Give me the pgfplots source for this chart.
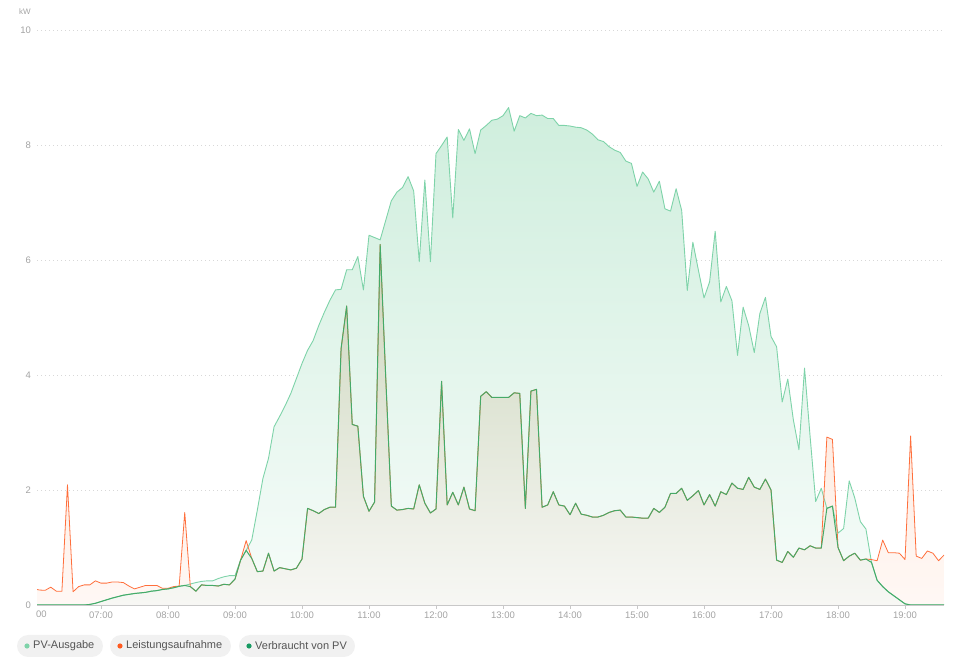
\documentclass[border=0pt]{standalone}
\usepackage{fontspec}
\setmainfont{Liberation Sans}
\usepackage{pgfplots}
\usepackage{pgfplotstable}
\pgfplotsset{compat=1.18}

\definecolor{pvline}{HTML}{7ED3A9}
\definecolor{consline}{HTML}{FF6F3C}
\definecolor{selfline}{HTML}{45AA68}
\definecolor{pvtop}{HTML}{CFEEDD}
\definecolor{pvbot}{HTML}{F7FCFA}
\definecolor{constop}{HTML}{FCD9C6}
\definecolor{consbot}{HTML}{FFF7F3}
\definecolor{selftop}{HTML}{CCD6BC}
\definecolor{selfbot}{HTML}{F7F7F4}
\definecolor{gridgray}{HTML}{D8D8D8}
\definecolor{axisgray}{HTML}{C8C8C8}
\definecolor{labelgray}{HTML}{A3A3A3}
\definecolor{pillgray}{HTML}{F1F1F1}
\definecolor{legtext}{HTML}{555555}
\definecolor{consdot}{HTML}{FF5A1F}
\definecolor{selfdot}{HTML}{179A62}

% t = minutes since midnight, values in kW
\pgfplotstableread{
t pv cons self
360 0 0.28 0
365 0 0.26 0
370 0 0.255 0
375 0 0.31 0
380 0 0.24 0
385 0 0.24 0
390 0 2.09 0
395 0 0.23 0
400 0 0.32 0
405 0 0.35 0
410 0.01 0.35 0.01
415 0.03 0.42 0.03
420 0.06 0.38 0.06
425 0.09 0.38 0.09
430 0.12 0.40 0.12
435 0.145 0.40 0.145
440 0.17 0.39 0.17
445 0.185 0.33 0.185
450 0.20 0.28 0.20
455 0.21 0.31 0.21
460 0.22 0.34 0.22
465 0.24 0.34 0.24
470 0.25 0.34 0.25
475 0.27 0.29 0.27
480 0.28 0.29 0.28
485 0.30 0.32 0.30
490 0.325 0.33 0.325
495 0.34 1.61 0.34
500 0.365 0.32 0.32
505 0.39 0.24 0.24
510 0.41 0.35 0.35
515 0.42 0.34 0.34
520 0.42 0.34 0.34
525 0.46 0.33 0.33
530 0.49 0.36 0.36
535 0.51 0.35 0.35
540 0.51 0.45 0.45
545 0.78 0.78 0.78
550 0.95 1.12 0.95
555 1.13 0.81 0.81
560 1.65 0.58 0.58
565 2.20 0.59 0.59
570 2.55 0.90 0.90
575 3.10 0.59 0.59
580 3.28 0.65 0.65
585 3.47 0.63 0.63
590 3.68 0.61 0.61
595 3.94 0.64 0.64
600 4.20 0.80 0.80
605 4.43 1.68 1.68
610 4.60 1.64 1.64
615 4.86 1.59 1.59
620 5.09 1.66 1.66
625 5.30 1.70 1.70
630 5.48 1.70 1.70
635 5.49 4.46 4.46
640 5.83 5.20 5.20
645 5.83 3.14 3.14
650 6.06 3.11 3.11
655 5.48 1.89 1.89
660 6.43 1.63 1.63
665 6.39 1.79 1.79
670 6.35 6.27 6.27
675 6.69 3.95 3.95
680 7.03 1.72 1.72
685 7.18 1.65 1.65
690 7.26 1.66 1.66
695 7.45 1.68 1.68
700 7.20 1.67 1.67
705 5.97 2.09 2.09
710 7.39 1.77 1.77
715 5.97 1.60 1.60
720 7.85 1.67 1.67
725 7.99 3.89 3.89
730 8.14 1.74 1.74
735 6.73 1.96 1.96
740 8.27 1.74 1.74
745 8.08 2.05 2.05
750 8.28 1.67 1.67
755 7.85 1.64 1.64
760 8.26 3.63 3.63
765 8.34 3.71 3.71
770 8.43 3.61 3.61
775 8.45 3.61 3.61
780 8.51 3.61 3.61
785 8.65 3.61 3.61
790 8.24 3.69 3.69
795 8.51 3.68 3.68
800 8.47 1.68 1.68
805 8.55 3.72 3.72
810 8.51 3.75 3.75
815 8.52 1.70 1.70
820 8.46 1.74 1.74
825 8.46 1.97 1.97
830 8.34 1.74 1.74
835 8.34 1.72 1.72
840 8.33 1.57 1.57
845 8.31 1.77 1.77
850 8.30 1.58 1.58
855 8.26 1.56 1.56
860 8.19 1.53 1.53
865 8.09 1.53 1.53
870 8.06 1.56 1.56
875 7.97 1.61 1.61
880 7.91 1.64 1.64
885 7.87 1.65 1.65
890 7.72 1.53 1.53
895 7.68 1.53 1.53
900 7.28 1.52 1.52
905 7.53 1.51 1.51
910 7.41 1.51 1.51
915 7.18 1.68 1.68
920 7.37 1.61 1.61
925 6.89 1.70 1.70
930 6.85 1.94 1.94
935 7.24 1.94 1.94
940 6.86 2.03 2.03
945 5.47 1.82 1.82
950 6.31 1.90 1.90
955 5.82 1.99 1.99
960 5.34 1.74 1.74
965 5.62 1.92 1.92
970 6.50 1.72 1.72
975 5.27 1.97 1.97
980 5.54 1.92 1.92
985 5.29 2.12 2.12
990 4.34 2.03 2.03
995 5.18 2.01 2.01
1000 4.86 2.22 2.22
1005 4.39 2.05 2.05
1010 5.07 2.01 2.01
1015 5.35 2.19 2.19
1020 4.67 2.00 2.00
1025 4.49 0.78 0.78
1030 3.53 0.74 0.74
1035 3.93 0.93 0.93
1040 3.22 0.83 0.83
1045 2.70 0.99 0.99
1050 4.12 0.96 0.96
1055 2.93 1.03 1.03
1060 1.80 0.99 0.99
1065 2.03 0.99 0.99
1070 1.68 2.92 1.68
1075 1.72 2.88 1.72
1080 1.25 1.00 1.00
1085 1.33 0.77 0.77
1090 2.16 0.85 0.85
1095 1.86 0.90 0.90
1100 1.45 0.78 0.78
1105 1.32 0.80 0.80
1110 0.74 0.79 0.74
1115 0.43 0.77 0.43
1120 0.32 1.13 0.32
1125 0.23 0.91 0.23
1130 0.16 0.91 0.16
1135 0.09 0.90 0.09
1140 0.02 0.79 0.02
1145 0 2.94 0
1150 0 0.85 0
1155 0 0.81 0
1160 0 0.94 0
1165 0 0.90 0
1170 0 0.77 0
1175 0 0.87 0
}\energy

\begin{document}
\begin{tikzpicture}[x=1pt,y=1pt]
\useasboundingbox (0,0) rectangle (957,668);

\begin{axis}[
    at={(37pt,63pt)}, anchor=south west,
    scale only axis,
    width=907pt, height=575pt,
    xmin=362.7, xmax=1174.9,
    ymin=0, ymax=10,
    axis x line=bottom, axis y line=left,
    x axis line style={-, draw=axisgray, line width=0.8pt},
    y axis line style={draw=none},
    xtick={420,480,...,1140},
    xticklabels={07:00,08:00,09:00,10:00,11:00,12:00,13:00,14:00,15:00,16:00,17:00,18:00,19:00},
    ytick={0,2,4,6,8,10},
    tick align=outside,
    major tick length=4pt,
    x tick style={draw=axisgray, line width=0.6pt},
    y tick style={draw=none},
    ymajorgrids,
    grid style={draw=gridgray, line width=0.6pt, dash pattern=on 1.2pt off 2.8pt},
    tick label style={font=\fontsize{9.5}{11}\selectfont, text=labelgray},
    /pgf/number format/assume math mode=true,
    xticklabel style={yshift=1pt},
    yticklabel style={xshift=1.5pt},
    no markers,
    clip=true,
]

% area fills
\addplot[draw=none, top color=pvtop, bottom color=pvbot] table[x=t, y=pv] {\energy} \closedcycle;
\addplot[draw=none, top color=constop, bottom color=consbot, fill opacity=0.85] table[x=t, y=cons] {\energy} \closedcycle;
\addplot[draw=none, top color=selftop, bottom color=selfbot] table[x=t, y=self] {\energy} \closedcycle;

% lines
\addplot[pvline, line width=0.9pt, line join=round] table[x=t, y=pv] {\energy};
\addplot[consline, line width=0.8pt, line join=round] table[x=t, y=cons] {\energy};
\addplot[selfline, line width=1.0pt, line join=round] table[x=t, y=self] {\energy};

\end{axis}

% unit label and clipped first tick label
\node[font=\fontsize{8}{9}\selectfont, text=labelgray] at (25,656) {kW};
\node[anchor=west, inner sep=0pt, font=\fontsize{9.5}{11}\selectfont, text=labelgray] at (36,54) {00};

% legend pills
\begin{scope}[font=\fontsize{11}{13}\selectfont]
\fill[pillgray, rounded corners=11pt] (17,11) rectangle (103,33);
\fill[pvline] (27,22) circle (2.6);
\node[anchor=west, inner sep=0pt, text=legtext] at (33,22) {PV-Ausgabe};

\fill[pillgray, rounded corners=11pt] (110,11) rectangle (231,33);
\fill[consdot] (120,22) circle (2.6);
\node[anchor=west, inner sep=0pt, text=legtext] at (126,22) {Leistungsaufnahme};

\fill[pillgray, rounded corners=11pt] (239,11) rectangle (355,33);
\fill[selfdot] (249,22) circle (2.6);
\node[anchor=west, inner sep=0pt, text=legtext] at (255,22) {Verbraucht von PV};
\end{scope}
\end{tikzpicture}
\end{document}
